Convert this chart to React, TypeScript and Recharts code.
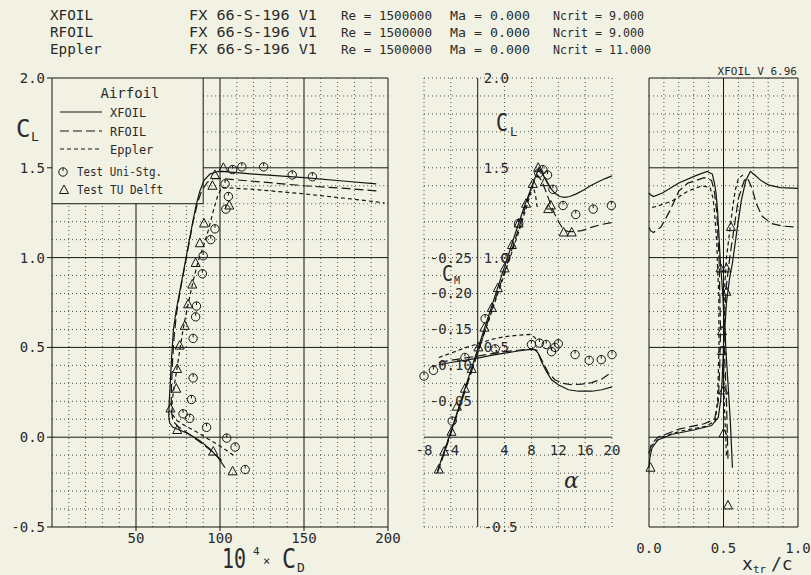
import React from "react";
import {
  ComposedChart,
  Line,
  Scatter,
  XAxis,
  YAxis,
  ReferenceLine,
  ReferenceDot,
} from "recharts";

const W = 811;
const H = 575;
const BG = "#f2f2e4";
const INK = "#151515";
const TXT = "#2a2a2a";
const GRID = "#4a4a4a";
const MONO = "'DejaVu Sans Mono', 'Liberation Mono', monospace";

type P = [number, number];
const pts = (a: P[]) => a.map(([x, y]) => ({ x, y }));
const range = (a: number, b: number) => {
  const out: number[] = [];
  for (let i = a; i <= b; i++) out.push(i);
  return out;
};

// header
const codes = ["XFOIL", "RFOIL", "Eppler"];
const airfoil = "FX 66-S-196 V1";
const reynolds = "1500000";
const mach = "0.000";
const ncrit = ["9.000", "9.000", "11.000"];

// ---- polar: CL vs 10^4 CD
const cdTicks = [50, 100, 150, 200];
const clTicks = [-0.5, 0, 0.5, 1, 1.5, 2];

const xfoilPolar: P[] = [
  [103, -0.17], [99, -0.115], [94, -0.065], [88, -0.02], [82, 0.015], [76, 0.04],
  [72, 0.055], [70, 0.08], [69.5, 0.12], [69.8, 0.2], [70.4, 0.3], [71.2, 0.45],
  [72.3, 0.6], [73.8, 0.7], [75.8, 0.8], [77.8, 0.9], [79.8, 1.0], [81.8, 1.1],
  [83.8, 1.2], [86, 1.3], [88, 1.37], [90.5, 1.43], [94, 1.465], [98, 1.478],
  [101, 1.48], [120, 1.465], [150, 1.445], [175, 1.425], [193, 1.41],
];
const rfoilPolar: P[] = [
  [101, -0.13], [96, -0.085], [90, -0.04], [84, 0.0], [79, 0.035], [75, 0.06],
  [72, 0.09], [71, 0.15], [71, 0.25], [71.6, 0.4], [72.6, 0.55], [74, 0.68],
  [76, 0.8], [78, 0.9], [80, 1.0], [82, 1.1], [84, 1.2], [86.5, 1.3], [89, 1.37],
  [92.5, 1.42], [96, 1.44], [100, 1.44], [120, 1.425], [150, 1.4], [175, 1.385],
  [195, 1.37],
];
const epplerPolar: P[] = [
  [108, -0.1], [101, -0.055], [93, -0.01], [86, 0.03], [79, 0.065], [74, 0.095],
  [71.5, 0.13], [71.5, 0.2], [73, 0.3], [75.5, 0.45], [78, 0.6], [81, 0.74],
  [84, 0.87], [87, 0.98], [90, 1.06], [93, 1.15], [96, 1.26], [98.5, 1.34],
  [101, 1.39], [120, 1.38], [150, 1.355], [175, 1.33], [198, 1.305],
];
const uniPolar: P[] = [
  [115, -0.18], [109, -0.055], [104, -0.005], [92, 0.055], [82, 0.105], [78, 0.13],
  [83, 0.21], [84, 0.33], [84, 0.55], [85.5, 0.67], [86, 0.73], [89.5, 0.91],
  [90, 1.01], [94.5, 1.1], [97, 1.16], [103.5, 1.27], [105, 1.34], [103, 1.41],
  [107.5, 1.49], [113, 1.505], [126, 1.505], [143, 1.46], [155, 1.45],
];
const delftPolar: P[] = [
  [107.5, -0.19], [96, -0.08], [74.5, 0.04], [70.5, 0.16], [74, 0.27], [74.5, 0.38],
  [76, 0.51], [79, 0.62], [81, 0.74], [83.5, 0.85], [85.5, 0.97], [88, 1.08],
  [90.5, 1.19], [105.5, 1.29], [95.5, 1.4], [97, 1.46], [102, 1.5],
];

// ---- CL and CM vs alpha
const alphaLabels = [-8, -4, 4, 8, 12, 16, 20];
const alphaClLabels = [2, 1.5, 1, 0.5, -0.5];
const cmLabels = [-0.25, -0.2, -0.15, -0.1, -0.05];

const xfoilLift: P[] = [
  [-6, -0.19], [-4, 0.03], [-2, 0.26], [0, 0.49], [2, 0.72], [4, 0.95], [6, 1.18],
  [7, 1.29], [8, 1.39], [8.6, 1.45], [9.1, 1.5], [9.7, 1.465], [10.3, 1.42],
  [11, 1.38], [11.6, 1.355], [12.2, 1.34], [13, 1.335], [13.7, 1.34], [14.7, 1.355],
  [15.7, 1.375], [16.8, 1.4], [17.8, 1.42], [19, 1.44], [20, 1.455],
];
const rfoilLift: P[] = [
  [-6, -0.2], [-4, 0.02], [-2, 0.245], [0, 0.47], [2, 0.7], [4, 0.92], [6, 1.15],
  [7.5, 1.33], [8.3, 1.42], [8.9, 1.46], [9.5, 1.43], [10.3, 1.355], [11, 1.28],
  [11.5, 1.24], [12.2, 1.19], [12.8, 1.155], [13.5, 1.145], [14.5, 1.145],
  [15.5, 1.15], [17, 1.17], [18.5, 1.185], [20, 1.195],
];
const epplerLift: P[] = [
  [-5.8, -0.17], [-4, 0.03], [-2, 0.25], [0, 0.47], [2, 0.69], [4, 0.91], [6, 1.13],
  [7.5, 1.31], [8.2, 1.4], [8.6, 1.35], [8.9, 1.27],
];
const xfoilMoment: P[] = [
  [-5.8, -0.101], [-4, -0.104], [-2, -0.107], [0, -0.11], [2, -0.114], [4, -0.117],
  [6, -0.12], [7.5, -0.122], [8.5, -0.122], [9, -0.117], [9.5, -0.105], [10.2, -0.092],
  [11, -0.08], [12, -0.073], [13.5, -0.066], [15, -0.064], [17, -0.064], [18.5, -0.066],
  [20, -0.07],
];
const rfoilMoment: P[] = [
  [-5.8, -0.104], [-4, -0.107], [-2, -0.11], [0, -0.113], [2, -0.116], [4, -0.119],
  [6, -0.121], [8, -0.123], [8.8, -0.121], [9.5, -0.108], [10.5, -0.09], [11.5, -0.08],
  [12.7, -0.075], [14, -0.073], [15.5, -0.074], [17, -0.076], [18.5, -0.081],
  [20, -0.091],
];
const epplerMoment: P[] = [
  [-5.8, -0.111], [-4, -0.117], [-2, -0.124], [0, -0.13], [2, -0.136], [4, -0.14],
  [6, -0.142], [7.8, -0.143], [8.5, -0.139], [8.8, -0.135],
];
const uniLift: P[] = [
  [-3.8, 0.09], [1.1, 0.66], [4.2, 1.0], [6.1, 1.19], [9.1, 1.47], [9.7, 1.49],
  [10.4, 1.46], [11.2, 1.38], [12.7, 1.29], [14.6, 1.24], [17.2, 1.27], [19.9, 1.29],
];
const uniMoment: P[] = [
  [-8, -0.085], [-6.6, -0.093], [-1.9, -0.111], [2.6, -0.123], [8, -0.129],
  [9.2, -0.131], [10.2, -0.129], [11, -0.119], [11.5, -0.125], [12, -0.13],
  [14.5, -0.115], [16.6, -0.107], [18.4, -0.108], [20, -0.115],
];
const delftLift: P[] = [
  [-5.8, -0.18], [-5, -0.08], [-3.9, 0.03], [-3.1, 0.17], [-1.9, 0.27], [-0.9, 0.38],
  [0.1, 0.5], [1, 0.61], [2.1, 0.72], [3, 0.83], [4, 0.94], [5.1, 1.07], [6.1, 1.19],
  [7.2, 1.3], [8.2, 1.41], [9, 1.5], [10, 1.42], [10.5, 1.27], [10.9, 1.29],
  [12.8, 1.14], [14, 1.14],
];

// ---- transition location vs CL
const xtrTicks = [0, 0.5, 1];

const xfoilTrTop: P[] = [
  [0, -0.17], [0.005, -0.12], [0.02, -0.06], [0.06, -0.015], [0.15, 0.015],
  [0.3, 0.04], [0.42, 0.065], [0.465, 0.11], [0.48, 0.2], [0.49, 0.3], [0.5, 0.5],
  [0.505, 0.62], [0.495, 0.8], [0.477, 1.0], [0.468, 1.15], [0.46, 1.26],
  [0.45, 1.36], [0.44, 1.41], [0.425, 1.465], [0.39, 1.48], [0.31, 1.455],
  [0.2, 1.415], [0.09, 1.36], [0.03, 1.34], [0.01, 1.35], [0, 1.36],
];
const xfoilTrBot: P[] = [
  [0.56, -0.17], [0.545, 0.1], [0.53, 0.3], [0.515, 0.5], [0.51, 0.62], [0.52, 0.75],
  [0.54, 0.88], [0.56, 0.97], [0.59, 1.15], [0.62, 1.32], [0.65, 1.43], [0.68, 1.48],
  [0.71, 1.46], [0.75, 1.43], [0.8, 1.405], [0.88, 1.39], [1, 1.385],
];
const rfoilTrTop: P[] = [
  [0, -0.09], [0.015, -0.04], [0.06, 0], [0.2, 0.045], [0.37, 0.075], [0.44, 0.1],
  [0.465, 0.2], [0.475, 0.4], [0.48, 0.6], [0.475, 0.8], [0.47, 1.0], [0.465, 1.08],
  [0.455, 1.25], [0.44, 1.36], [0.42, 1.43], [0.37, 1.445], [0.3, 1.425],
  [0.26, 1.415], [0.2, 1.37], [0.14, 1.26], [0.08, 1.17], [0.03, 1.14], [0.01, 1.15],
  [0, 1.17],
];
const rfoilTrBot: P[] = [
  [0.53, -0.12], [0.52, 0.2], [0.505, 0.5], [0.505, 0.65], [0.52, 0.85], [0.545, 1.02],
  [0.565, 1.13], [0.6, 1.33], [0.64, 1.43], [0.66, 1.445], [0.69, 1.39], [0.72, 1.3],
  [0.76, 1.23], [0.82, 1.19], [0.9, 1.175], [1, 1.17],
];
const epplerTrTop: P[] = [
  [0, -0.09], [0.02, -0.045], [0.08, 0], [0.22, 0.035], [0.38, 0.06], [0.445, 0.09],
  [0.46, 0.2], [0.47, 0.5], [0.468, 0.8], [0.46, 0.95], [0.455, 1.08], [0.44, 1.25],
  [0.43, 1.33], [0.41, 1.39], [0.355, 1.4], [0.26, 1.37], [0.155, 1.315],
  [0.05, 1.285], [0, 1.275],
];
const epplerTrBot: P[] = [
  [0.52, -0.1], [0.505, 0.2], [0.5, 0.5], [0.505, 0.8], [0.52, 1.0], [0.545, 1.17],
  [0.565, 1.3], [0.58, 1.38], [0.6, 1.44], [0.63, 1.46],
];
const delftTr: P[] = [
  [0.01, -0.17], [0.53, -0.38], [0.5, 0.02], [0.5, 0.26], [0.49, 0.48], [0.49, 0.59],
  [0.52, 0.81], [0.48, 0.94], [0.52, 0.94], [0.55, 1.17],
];

const dotted = { stroke: GRID, strokeDasharray: "1 3", strokeWidth: 1 };
const solid = { stroke: INK, strokeWidth: 1 };
const dash = { xfoil: undefined, rfoil: "9 4", eppler: "4 3" };
const tickFont = { fill: TXT, fontSize: 14, fontFamily: MONO };

const Ring = (p: any) => {
  const { cx, cy } = p;
  if (cx == null || cy == null) return <g />;
  return (
    <g>
      <circle cx={cx} cy={cy} r={4.2} fill="none" stroke={INK} strokeWidth={1} />
      <line x1={cx} y1={cy - 4.2} x2={cx} y2={cy - 1} stroke={INK} strokeWidth={1} />
    </g>
  );
};
const Tri = (p: any) => {
  const { cx, cy } = p;
  if (cx == null || cy == null) return <g />;
  return (
    <polygon
      points={`${cx},${cy - 5} ${cx - 4.5},${cy + 3.5} ${cx + 4.5},${cy + 3.5}`}
      fill="none"
      stroke={INK}
      strokeWidth={1}
    />
  );
};

const curve = (data: P[], d: string | undefined, yAxisId: any = 0) => (
  <Line
    data={pts(data)}
    dataKey="y"
    yAxisId={yAxisId}
    type="linear"
    stroke={INK}
    strokeWidth={1.2}
    strokeDasharray={d}
    dot={false}
    activeDot={false}
    isAnimationActive={false}
  />
);

const marks = (data: P[], shape: any, yAxisId: any = 0) => (
  <Scatter data={pts(data)} dataKey="y" yAxisId={yAxisId} shape={shape} isAnimationActive={false} />
);

const place: React.CSSProperties = { position: "absolute", left: 0, top: 0 };

function PolarPanel() {
  const vMinor = range(1, 19).map((i) => i * 10).filter((v) => v % 50 !== 0);
  const hMinor = range(-4, 19).filter((i) => i % 5 !== 0).map((i) => i / 10);
  return (
    <div style={place}>
      <ComposedChart width={W} height={H} margin={{ top: 78, left: 12, right: 423, bottom: 18 }}>
        <XAxis type="number" dataKey="x" domain={[0, 200]} ticks={cdTicks} height={30}
          stroke={INK} tickSize={4} tick={tickFont} />
        <YAxis type="number" domain={[-0.5, 2]} ticks={clTicks} width={40} stroke={INK}
          tickSize={5} tickMargin={2} tickFormatter={(v: number) => v.toFixed(1)} tick={tickFont} />
        {vMinor.map((v) => (
          <ReferenceLine key={"v" + v} {...dotted}
            segment={[{ x: v, y: -0.5 }, { x: v, y: v <= 90 ? 1.3 : 2 }]} />
        ))}
        {hMinor.map((v) => (
          <ReferenceLine key={"h" + v} {...dotted}
            segment={[{ x: v >= 1.3 ? 90 : 0, y: v }, { x: 200, y: v }]} />
        ))}
        <ReferenceLine {...solid} segment={[{ x: 50, y: -0.5 }, { x: 50, y: 1.3 }]} />
        <ReferenceLine {...solid} x={100} />
        <ReferenceLine {...solid} x={150} />
        <ReferenceLine {...solid} x={200} />
        <ReferenceLine {...solid} y={0} />
        <ReferenceLine {...solid} y={0.5} />
        <ReferenceLine {...solid} y={1} />
        <ReferenceLine {...solid} y={2} />
        <ReferenceLine {...solid} segment={[{ x: 90, y: 1.5 }, { x: 200, y: 1.5 }]} />
        <ReferenceLine {...solid} segment={[{ x: 0, y: 1.3 }, { x: 90, y: 1.3 }]} />
        <ReferenceLine {...solid} segment={[{ x: 90, y: 1.3 }, { x: 90, y: 2 }]} />
        {curve(xfoilPolar, dash.xfoil)}
        {curve(rfoilPolar, dash.rfoil)}
        {curve(epplerPolar, dash.eppler)}
        {marks(uniPolar, Ring)}
        {marks(delftPolar, Tri)}
      </ComposedChart>
    </div>
  );
}

function AlphaPanel() {
  const vGrid = [-8, -4, 4, 8, 12, 16, 20];
  const hGrid = range(-5, 20).filter((i) => i !== 0).map((i) => i / 10);
  const lbl = (value: string, position: any, offset = 6) => ({
    value, position, offset, fill: TXT, fontSize: 14, fontFamily: MONO,
  });
  return (
    <div style={place}>
      <ComposedChart width={W} height={H} margin={{ top: 78, left: 424, right: 199, bottom: 48 }}>
        <XAxis type="number" dataKey="x" domain={[-8, 20]} hide />
        <YAxis yAxisId="cl" type="number" domain={[-0.5, 2]} hide />
        <YAxis yAxisId="cm" type="number" domain={[-0.5, 0.125]} reversed hide />
        {vGrid.map((v) => (
          <ReferenceLine key={"v" + v} yAxisId="cl" x={v} {...dotted} />
        ))}
        {hGrid.map((v) => (
          <ReferenceLine key={"h" + v} yAxisId="cl" y={v} {...dotted} />
        ))}
        <ReferenceLine yAxisId="cl" x={0} {...solid} />
        <ReferenceLine yAxisId="cl" y={0} {...solid} />
        {alphaLabels.map((a) => (
          <ReferenceDot key={"a" + a} yAxisId="cl" x={a} y={0} r={0} fill="none" stroke="none"
            label={lbl(String(a), "bottom", 8)} />
        ))}
        {alphaClLabels.map((c) => (
          <ReferenceDot key={"c" + c} yAxisId="cl" x={0} y={c} r={0} fill="none" stroke="none"
            label={lbl(c.toFixed(1), "right", 6)} />
        ))}
        {cmLabels.map((m) => (
          <ReferenceDot key={"m" + m} yAxisId="cm" x={-4} y={m} r={0} fill="none" stroke="none"
            label={lbl(m.toFixed(2), "center", 0)} />
        ))}
        {curve(xfoilLift, dash.xfoil, "cl")}
        {curve(rfoilLift, dash.rfoil, "cl")}
        {curve(epplerLift, dash.eppler, "cl")}
        {curve(xfoilMoment, dash.xfoil, "cm")}
        {curve(rfoilMoment, dash.rfoil, "cm")}
        {curve(epplerMoment, dash.eppler, "cm")}
        {marks(uniLift, Ring, "cl")}
        {marks(uniMoment, Ring, "cm")}
        {marks(delftLift, Tri, "cl")}
      </ComposedChart>
    </div>
  );
}

function TransitionPanel() {
  const vMinor = range(1, 9).filter((i) => i !== 5).map((i) => i / 10);
  const hMinor = range(-4, 19).filter((i) => i % 5 !== 0).map((i) => i / 10);
  return (
    <div style={place}>
      <ComposedChart width={W} height={H} margin={{ top: 78, left: 649, right: 13, bottom: 18 }}>
        <XAxis type="number" dataKey="x" domain={[0, 1]} ticks={xtrTicks} height={30}
          stroke={INK} tickLine={false} tickMargin={10} tick={tickFont}
          tickFormatter={(v: number) => v.toFixed(1)} />
        <YAxis type="number" domain={[-0.5, 2]} hide />
        {vMinor.map((v) => (
          <ReferenceLine key={"v" + v} x={v} {...dotted} />
        ))}
        {hMinor.map((v) => (
          <ReferenceLine key={"h" + v} y={v} {...dotted} />
        ))}
        {[0, 0.5, 1].map((v) => (
          <ReferenceLine key={"sv" + v} x={v} {...solid} />
        ))}
        {[0, 0.5, 1, 1.5, 2].map((v) => (
          <ReferenceLine key={"sh" + v} y={v} {...solid} />
        ))}
        {curve(xfoilTrTop, dash.xfoil)}
        {curve(xfoilTrBot, dash.xfoil)}
        {curve(rfoilTrTop, dash.rfoil)}
        {curve(rfoilTrBot, dash.rfoil)}
        {curve(epplerTrTop, dash.eppler)}
        {curve(epplerTrBot, dash.eppler)}
        {marks(delftTr, Tri)}
      </ComposedChart>
    </div>
  );
}

function Overlay() {
  const t = { fill: TXT, fontFamily: MONO };
  const rows = [20, 37, 54];
  return (
    <svg width={W} height={H} style={{ ...place, pointerEvents: "none" }}>
      {rows.map((y, i) => (
        <g key={i} {...t}>
          <text x={50} y={y} fontSize={14} textLength={codes[i].length * 8.6} lengthAdjust="spacingAndGlyphs">{codes[i]}</text>
          <text x={189} y={y} fontSize={14} textLength={128} lengthAdjust="spacingAndGlyphs">{airfoil}</text>
          <text x={341} y={y} fontSize={12} textLength={91} lengthAdjust="spacingAndGlyphs">{"Re = " + reynolds}</text>
          <text x={450} y={y} fontSize={12} textLength={80} lengthAdjust="spacingAndGlyphs">{"Ma = " + mach}</text>
          <text x={553} y={y} fontSize={12} textLength={ncrit[i].length > 5 ? 98 : 91} lengthAdjust="spacingAndGlyphs">{"Ncrit = " + ncrit[i]}</text>
        </g>
      ))}
      <text x={797} y={75} fontSize={11} textAnchor="end" {...t}>XFOIL V 6.96</text>

      {/* legend */}
      <text x={130} y={98} fontSize={14} textAnchor="middle" {...t}>Airfoil</text>
      <line x1={60} y1={112} x2={102} y2={112} stroke={INK} strokeWidth={1.2} />
      <line x1={60} y1={131} x2={102} y2={131} stroke={INK} strokeWidth={1.2} strokeDasharray="9 4" />
      <line x1={60} y1={149} x2={102} y2={149} stroke={INK} strokeWidth={1.2} strokeDasharray="4 3" />
      <text x={110} y={117} fontSize={12} {...t}>XFOIL</text>
      <text x={110} y={136} fontSize={12} {...t}>RFOIL</text>
      <text x={110} y={154} fontSize={12} {...t}>Eppler</text>
      <Ring cx={63} cy={172} />
      <Tri cx={64} cy={190} />
      <text x={77} y={176} fontSize={12} textLength={85} lengthAdjust="spacingAndGlyphs" {...t}>Test Uni-Stg.</text>
      <text x={77} y={194} fontSize={12} textLength={86} lengthAdjust="spacingAndGlyphs" {...t}>Test TU Delft</text>

      {/* axis titles */}
      <text x={16} y={137} fontSize={24} {...t}>C</text>
      <text x={31} y={141} fontSize={13} {...t}>L</text>
      <text x={222} y={568} fontSize={26} textLength={24} lengthAdjust="spacingAndGlyphs" {...t}>10</text>
      <text x={253} y={555} fontSize={11} {...t}>4</text>
      <text x={263} y={565} fontSize={12} {...t}>×</text>
      <text x={282} y={568} fontSize={26} textLength={14} lengthAdjust="spacingAndGlyphs" {...t}>C</text>
      <text x={297} y={572} fontSize={13} {...t}>D</text>

      <text x={496} y={131} fontSize={24} textLength={12} lengthAdjust="spacingAndGlyphs" {...t}>C</text>
      <text x={510} y={136} fontSize={12} {...t}>L</text>
      <text x={442} y={281} fontSize={21} textLength={11} lengthAdjust="spacingAndGlyphs" {...t}>C</text>
      <text x={454} y={284} fontSize={10} {...t}>M</text>
      <text x={564} y={488} fontSize={22} fontStyle="italic" fontFamily="'DejaVu Serif', serif" fill={TXT}>α</text>

      <text x={742} y={570} fontSize={18} {...t}>x</text>
      <text x={753} y={573} fontSize={11} {...t}>tr</text>
      <text x={771} y={570} fontSize={18} {...t}>/c</text>
    </svg>
  );
}

export default function App() {
  return (
    <div style={{ position: "absolute", left: 0, top: 0, width: W, height: H, background: BG, overflow: "hidden" }}>
      <PolarPanel />
      <AlphaPanel />
      <TransitionPanel />
      <Overlay />
    </div>
  );
}
